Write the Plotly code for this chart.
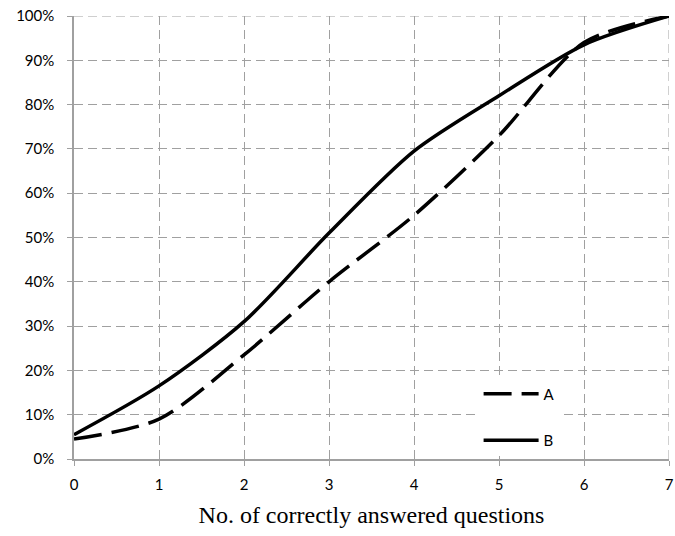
import plotly.graph_objects as go

x_vals = [0, 1, 2, 3, 4, 5, 6, 7]
series_a = [0.045, 0.09, 0.235, 0.40, 0.55, 0.73, 0.94, 1.00]
series_b = [0.055, 0.165, 0.31, 0.51, 0.695, 0.82, 0.935, 1.00]
y_ticks = [i / 10 for i in range(11)]
y_tick_text = [f"{i*10}%" for i in range(11)]

fig = go.Figure()
fig.add_trace(go.Scatter(x=x_vals, y=series_a, name="A", mode="lines", legendgroup="a",
                         line=dict(color="black", width=3.5, dash="28px,10px", shape="spline", smoothing=0.8)))
fig.add_trace(go.Scatter(x=x_vals, y=series_b, name="B", mode="lines", legendgroup="b",
                         line=dict(color="black", width=3.5, shape="spline", smoothing=0.8)))

grid = "#a0a0a0"
fig.update_layout(
    width=675, height=536,
    margin=dict(l=74, r=6, t=16, b=77, autoexpand=False),
    plot_bgcolor="white", paper_bgcolor="white",
    font=dict(family="Lato, Noto Sans, sans-serif", size=15, color="black"),
    showlegend=True,
    legend=dict(x=0.68, y=0.184, xanchor="left", yanchor="top",
                bgcolor="white", borderwidth=0, traceorder="grouped", tracegroupgap=24,
                itemwidth=55, font=dict(size=15)),
    xaxis=dict(range=[0, 7], tickvals=x_vals, showgrid=True, gridcolor=grid, griddash="9px,5px",
               gridwidth=1, showline=True, linecolor=grid, linewidth=1.5, ticks="outside",
               ticklen=5, tickcolor=grid, zeroline=False, mirror=False, ticklabelstandoff=6,
               title=dict(text="No. of correctly answered questions",
                          font=dict(family="Liberation Serif, Times New Roman, serif", size=24), standoff=14)),
    yaxis=dict(range=[0, 1], tickvals=y_ticks, ticktext=y_tick_text, showgrid=True, gridcolor=grid,
               griddash="9px,5px", gridwidth=1, showline=True, linecolor=grid, linewidth=1.5,
               ticks="outside", ticklen=5, tickcolor=grid, zeroline=False, ticklabelstandoff=10),
)
fig.add_shape(type="line", xref="x", yref="paper", x0=7, x1=7, y0=0, y1=1,
              line=dict(color=grid, width=1, dash="9px,5px"), layer="below")
fig.add_shape(type="line", xref="paper", yref="y", x0=0, x1=1, y0=1, y1=1,
              line=dict(color=grid, width=1, dash="9px,5px"), layer="below")
fig.write_html("out.html", config={"displayModeBar": False},
               post_script="document.body.style.margin='0';document.body.style.padding='0';")
